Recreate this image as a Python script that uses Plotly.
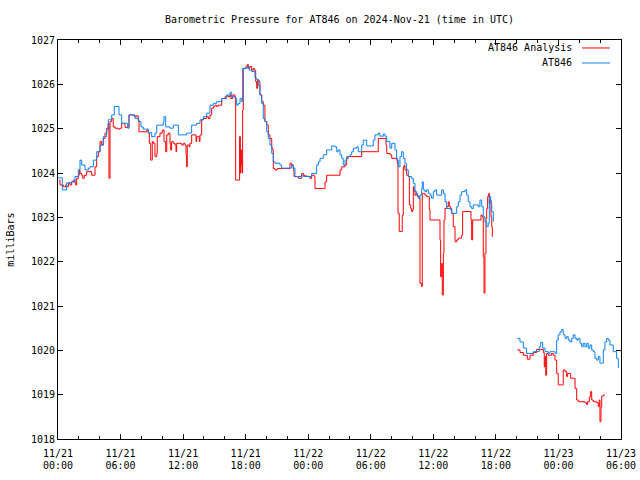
import pandas as pd
import plotly.graph_objects as go

START = "2024-11-21 00:00"

# AT846 observations (hours after start, millibars); None marks the data gap
obs_hours = [0.0, 0.41, 0.83, 1.31, 1.63, 1.95, 2.11, 2.27, 2.59, 2.91, 3.07, 3.39, 3.71, 4.03, 4.34, 4.67,
             4.82, 5.15, 5.40, 5.78, 5.85, 6.11, 6.49, 6.68, 6.81, 7.22, 7.39, 7.70, 7.96, 8.18, 8.66, 8.99,
             9.30, 9.47, 9.78, 10.10, 10.17, 10.33, 10.74, 11.06, 11.54, 11.86, 12.34, 12.66, 12.82, 13.30,
             13.62, 13.94, 14.26, 14.58, 14.90, 15.22, 15.70, 16.18, 16.50, 16.66, 16.98, 17.14, 17.29, 17.46,
             17.62, 17.71, 17.94, 18.16, 18.35, 18.58, 18.89, 19.06, 19.21, 19.37, 19.54, 19.69, 19.85, 20.02,
             20.17, 20.33, 20.50, 20.65, 20.81, 21.29, 21.45, 22.25, 22.41, 22.57, 22.73, 23.21, 23.37, 23.53,
             24.17, 24.33, 24.65, 24.81, 24.97, 25.13, 25.45, 25.77, 26.25, 26.57, 26.73, 26.88, 27.05, 27.21,
             27.36, 27.53, 27.69, 28.01, 28.17, 28.32, 28.65, 28.80, 29.13, 29.28, 29.61, 30.09, 30.24, 30.40,
             30.72, 30.88, 31.20, 31.36, 31.53, 31.84, 32.01, 32.32, 32.48, 32.64, 32.80, 32.96, 33.12, 33.28,
             33.44, 33.60, 33.92, 34.08, 34.24, 34.40, 34.56, 34.72, 34.88, 34.94, 35.04, 35.20, 35.36, 35.52,
             35.68, 35.84, 36.00, 36.16, 36.32, 36.64, 36.80, 36.96, 37.12, 37.28, 37.60, 37.76, 38.08, 38.24,
             38.39, 38.56, 38.72, 39.04, 39.20, 39.35, 39.52, 39.68, 39.83, 40.16, 40.31, 40.47, 40.64, 40.79,
             40.95, 41.12, 41.27, 41.37, 41.50, 41.60, 41.75, 42.9,
             44.05, 44.31, 44.63, 44.95, 45.27, 45.59, 45.91, 46.16, 46.30, 46.49, 46.71, 47.03, 47.19, 47.50,
             47.67, 47.83, 47.98, 48.15, 48.31, 48.46, 48.63, 48.79, 48.94, 49.11, 49.27, 49.42, 49.59, 49.75,
             49.90, 50.07, 50.23, 50.38, 50.54, 50.71, 50.86, 51.02, 51.19, 51.34, 51.50, 51.67, 51.82, 51.98,
             52.15, 52.30, 52.46, 52.62, 52.78, 52.94, 53.26, 53.58, 53.74]
obs_mb = [1023.89, 1023.62, 1023.78, 1023.80, 1023.92, 1024.07, 1024.29, 1024.18, 1024.07, 1024.11, 1024.14,
          1024.29, 1024.48, 1024.63, 1024.82, 1024.97, 1025.20, 1025.31, 1025.50, 1025.50, 1025.31, 1025.12,
          1025.12, 1025.01, 1025.31, 1025.31, 1025.23, 1025.16, 1025.04, 1024.99, 1024.91, 1024.82, 1024.90,
          1025.08, 1025.08, 1025.16, 1025.27, 1025.04, 1025.01, 1025.08, 1024.86, 1024.86, 1024.90, 1024.90,
          1025.08, 1025.12, 1025.20, 1025.27, 1025.35, 1025.53, 1025.57, 1025.61, 1025.68, 1025.76, 1025.82,
          1025.72, 1025.68, 1025.53, 1025.57, 1025.68, 1025.61, 1026.36, 1026.36, 1026.40, 1026.32, 1026.29,
          1026.14, 1026.10, 1025.98, 1025.76, 1025.57, 1025.23, 1025.16, 1024.93, 1024.78, 1024.63, 1024.44,
          1024.25, 1024.22, 1024.18, 1024.11, 1024.11, 1024.18, 1024.11, 1023.92, 1023.92, 1023.95, 1023.92,
          1023.92, 1023.99, 1023.99, 1024.18, 1024.25, 1024.33, 1024.41, 1024.52, 1024.61, 1024.59, 1024.48,
          1024.52, 1024.41, 1024.33, 1024.18, 1024.29, 1024.37, 1024.41, 1024.48, 1024.56, 1024.59, 1024.48,
          1024.63, 1024.74, 1024.61, 1024.61, 1024.74, 1024.86, 1024.90, 1024.83, 1024.88, 1024.83, 1024.71,
          1024.56, 1024.67, 1024.52, 1024.29, 1024.14, 1024.37, 1024.48, 1024.33, 1024.22, 1024.07, 1023.92,
          1023.88, 1023.77, 1023.58, 1023.50, 1023.43, 1023.50, 1023.65, 1023.80, 1023.62, 1023.58, 1023.62,
          1023.54, 1023.50, 1023.43, 1023.58, 1023.62, 1023.50, 1023.50, 1023.62, 1023.54, 1023.35, 1023.20,
          1023.20, 1023.09, 1023.09, 1023.24, 1023.35, 1023.50, 1023.58, 1023.62, 1023.50, 1023.35, 1023.24,
          1023.20, 1023.28, 1023.28, 1023.24, 1023.39, 1023.24, 1023.01, 1022.90, 1022.79, 1022.87, 1023.47,
          1023.32, 1023.13, 1022.90, None,
          1020.27, 1020.19, 1020.05, 1019.93, 1019.93, 1019.97, 1019.97, 1020.08, 1020.18, 1020.05, 1019.97,
          1019.93, 1019.97, 1019.97, 1019.93, 1020.23, 1020.35, 1020.42, 1020.47, 1020.35, 1020.27, 1020.31,
          1020.23, 1020.19, 1020.27, 1020.35, 1020.27, 1020.23, 1020.27, 1020.16, 1020.08, 1020.16, 1020.08,
          1020.16, 1020.05, 1020.12, 1020.01, 1019.97, 1019.82, 1019.78, 1019.86, 1019.71, 1019.71, 1020.01,
          1020.19, 1020.27, 1020.23, 1020.12, 1019.97, 1019.82, 1019.60]

# AT846 Analysis (hours after start, millibars); None marks the data gap
ana_hours = [0.10, 0.19, 0.51, 0.74, 0.83, 0.99, 1.15, 1.31, 1.47, 1.63, 1.70, 1.79, 1.95, 2.04, 2.11, 2.27,
             2.37, 2.52, 2.75, 3.07, 3.23, 3.48, 3.55, 3.71, 3.87, 4.03, 4.19, 4.34, 4.51, 4.67, 4.82, 4.89,
             4.99, 5.15, 5.30, 5.47, 5.78, 5.95, 6.11, 6.26, 6.43, 6.68, 6.81, 7.22, 7.32, 7.55, 7.70, 7.77,
             8.03, 8.34, 8.51, 8.66, 8.76, 8.89, 8.99, 9.04, 9.14, 9.30, 9.47, 9.52, 9.78, 10.00, 10.17, 10.26,
             10.33, 10.43, 10.58, 10.74, 10.81, 10.90, 11.06, 11.22, 11.32, 11.38, 11.70, 11.86, 12.02, 12.18,
             12.28, 12.34, 12.40, 12.59, 12.66, 12.82, 13.14, 13.24, 13.30, 13.46, 13.55, 13.62, 13.78, 13.94,
             14.26, 14.42, 14.58, 14.74, 14.90, 15.06, 15.22, 15.37, 15.70, 16.02, 16.18, 16.33, 16.50, 16.59,
             16.76, 16.98, 17.04, 17.39, 17.42, 17.49, 17.55, 17.62, 17.68, 17.71, 17.77, 18.03, 18.16, 18.25,
             18.41, 18.58, 18.73, 18.83, 18.96, 19.06, 19.15, 19.28, 19.37, 19.54, 19.69, 19.85, 20.02, 20.17,
             20.33, 20.50, 20.59, 20.65, 20.81, 20.97, 21.03, 21.29, 22.25, 22.41, 22.57, 22.64, 23.05, 23.21,
             23.37, 23.53, 23.69, 24.01, 24.17, 24.33, 24.58, 24.65, 25.45, 25.61, 25.77, 26.88, 27.05, 27.21,
             27.53, 27.69, 27.84, 28.97, 29.13, 30.57, 30.72, 31.36, 31.46, 31.53, 31.84, 32.01, 32.48, 32.54,
             32.61, 32.73, 32.96, 33.02, 33.12, 33.21, 33.28, 33.44, 33.60, 33.70, 33.83, 33.92, 34.02, 34.08,
             34.14, 34.24, 34.34, 34.46, 34.65, 34.72, 34.88, 34.94, 35.20, 35.36, 35.52, 35.61, 35.68, 36.48,
             36.64, 36.70, 36.80, 36.86, 36.96, 37.02, 37.12, 37.28, 37.43, 37.53, 37.66, 37.76, 37.91, 38.08,
             38.24, 38.39, 38.72, 38.81, 39.52, 39.61, 39.68, 39.77, 40.57, 40.70, 40.79, 40.86, 40.95, 41.05,
             41.12, 41.21, 41.31, 41.37, 41.44, 41.53, 41.60, 41.66, 42.9,
             44.05, 44.31, 44.63, 45.01, 45.27, 45.59, 45.91, 46.39, 46.55, 46.64, 46.71, 46.78, 46.87, 47.03,
             47.35, 47.50, 47.67, 47.83, 47.98, 48.31, 48.46, 48.63, 48.79, 48.88, 49.11, 49.17, 49.49, 49.59,
             49.75, 49.90, 50.54, 50.71, 50.77, 50.96, 51.09, 51.19, 51.34, 51.67, 51.82, 51.91, 51.98, 52.08,
             52.15, 52.30, 52.46]
ana_mb = [1023.84, 1023.73, 1023.69, 1023.73, 1023.69, 1023.77, 1023.73, 1023.80, 1023.84, 1023.77, 1023.73,
          1023.88, 1023.95, 1024.07, 1023.99, 1023.95, 1023.88, 1023.95, 1024.03, 1024.03, 1023.95, 1023.95,
          1024.14, 1024.37, 1024.48, 1024.71, 1024.63, 1024.78, 1024.90, 1025.01, 1025.12, 1023.88, 1025.16,
          1025.23, 1025.04, 1025.01, 1024.99, 1025.01, 1025.12, 1025.12, 1025.03, 1025.04, 1025.31, 1025.31,
          1025.27, 1025.29, 1025.20, 1024.93, 1024.93, 1024.93, 1024.97, 1024.90, 1024.67, 1024.29, 1024.29,
          1024.71, 1024.67, 1024.37, 1024.44, 1024.82, 1024.90, 1024.97, 1024.71, 1024.71, 1024.48, 1024.86,
          1024.90, 1024.67, 1024.52, 1024.71, 1024.67, 1024.63, 1024.48, 1024.67, 1024.67, 1024.63, 1024.67,
          1024.63, 1024.41, 1024.14, 1024.63, 1024.59, 1024.67, 1024.86, 1024.86, 1024.71, 1024.82, 1024.82,
          1024.71, 1024.86, 1025.20, 1025.23, 1025.27, 1025.23, 1025.31, 1025.46, 1025.50, 1025.53, 1025.50,
          1025.53, 1025.68, 1025.72, 1025.74, 1025.72, 1025.76, 1025.68, 1025.76, 1025.72, 1023.84, 1023.84,
          1024.82, 1024.00, 1024.52, 1024.18, 1024.00, 1025.42, 1026.36, 1026.40, 1026.45, 1026.36, 1026.40,
          1026.32, 1026.36, 1026.32, 1026.06, 1025.91, 1026.10, 1026.06, 1025.76, 1025.61, 1025.53, 1025.16,
          1025.08, 1024.86, 1024.78, 1024.56, 1024.52, 1024.10, 1024.07, 1024.07, 1024.10, 1024.10, 1024.22,
          1024.18, 1024.07, 1023.92, 1023.88, 1023.88, 1023.99, 1023.95, 1023.93, 1023.92, 1023.88, 1023.95,
          1023.92, 1023.65, 1023.65, 1023.80, 1023.95, 1023.95, 1024.07, 1024.14, 1024.18, 1024.33, 1024.37,
          1024.37, 1024.48, 1024.48, 1024.78, 1024.78, 1024.63, 1024.44, 1024.41, 1024.33, 1024.33, 1024.22,
          1023.09, 1022.68, 1022.68, 1023.05, 1024.14, 1024.18, 1024.07, 1023.95, 1023.92, 1023.28, 1023.20,
          1023.13, 1023.17, 1023.69, 1023.62, 1023.50, 1023.54, 1023.47, 1023.43, 1021.51, 1021.44, 1023.54,
          1023.50, 1023.47, 1023.47, 1023.17, 1022.94, 1022.94, 1022.49, 1021.66, 1021.96, 1021.25, 1022.19,
          1022.94, 1023.20, 1023.24, 1023.35, 1023.24, 1023.17, 1023.09, 1022.79, 1022.45, 1022.49, 1022.53,
          1022.60, 1023.13, 1023.13, 1022.94, 1022.49, 1022.94, 1023.05, 1023.01, 1022.11, 1021.29, 1022.19,
          1022.98, 1023.20, 1023.47, 1023.54, 1023.32, 1023.39, 1023.01, 1022.79, 1022.56, None,
          1020.01, 1019.95, 1019.89, 1019.80, 1019.89, 1019.95, 1020.02, 1020.02, 1019.95, 1019.63, 1019.86,
          1019.44, 1019.93, 1019.89, 1019.93, 1019.89, 1019.78, 1019.48, 1019.22, 1019.22, 1019.56, 1019.52,
          1019.41, 1019.48, 1019.48, 1019.37, 1019.37, 1019.14, 1018.88, 1018.84, 1018.82, 1018.77, 1018.84,
          1018.95, 1019.07, 1018.88, 1018.84, 1018.82, 1018.73, 1018.88, 1018.39, 1018.73, 1018.97, 1018.99,
          1018.99]

series_names = ["AT846 Analysis", "AT846"]
series_colors = ["#ff0000", "#0a80f5"]
title_text = "Barometric Pressure for AT846 on 2024-Nov-21 (time in UTC)"
y_label = "milliBars"
x_range_hours = [0, 54]
y_range = [1018, 1027]

t0 = pd.Timestamp(START)
to_time = lambda hs: [t0 + pd.Timedelta(hours=h) for h in hs]
x_range = to_time(x_range_hours)

FONT = "DejaVu Sans Mono"
FS = 10
tickfont = dict(family=FONT, size=FS, color="black")

fig = go.Figure()
fig.add_trace(go.Scatter(x=to_time(ana_hours), y=ana_mb, mode="lines", name=series_names[0],
                         line=dict(color=series_colors[0], width=1, shape="hv"), connectgaps=False,
                         hoverinfo="skip"))
fig.add_trace(go.Scatter(x=to_time(obs_hours), y=obs_mb, mode="lines", name=series_names[1],
                         line=dict(color=series_colors[1], width=1, shape="hv"), connectgaps=False,
                         hoverinfo="skip"))
# carrier for the second (time-of-day) row of x tick labels
fig.add_trace(go.Scatter(x=x_range, y=[None, None], xaxis="x2", mode="lines", showlegend=False,
                         hoverinfo="skip"))

six_h = 6 * 3600 * 1000
fig.update_layout(
    xaxis=dict(type="date", range=x_range, tick0=START, dtick=six_h, tickformat="%m/%d",
               showline=True, linecolor="black", linewidth=1, mirror="ticks", ticks="inside",
               ticklen=5, tickcolor="black", showgrid=False, zeroline=False, tickfont=tickfont,
               ticklabelstandoff=5, automargin=False,
               minor=dict(dtick=2 * 3600 * 1000, ticks="inside", ticklen=3, tickcolor="black")),
    xaxis2=dict(type="date", range=x_range, tick0=START, dtick=six_h, tickformat="%H:%M",
                overlaying="x", side="bottom", showline=False, ticks="", showgrid=False,
                zeroline=False, tickfont=tickfont, ticklabelstandoff=19, automargin=False),
    yaxis=dict(range=y_range, dtick=1, showline=True, linecolor="black", linewidth=1,
               mirror="ticks", ticks="inside", ticklen=5, tickcolor="black", showgrid=False,
               zeroline=False, tickfont=tickfont, automargin=False),
)

# gnuplot-style key: text right-aligned, line sample to the right
key_y = [0.98, 0.9424]
for name, color, ky in zip(series_names, series_colors, key_y):
    fig.add_annotation(xref="paper", yref="paper", x=0.9165, y=ky, text=name, showarrow=False,
                       xanchor="right", yanchor="middle", font=dict(family=FONT, size=FS, color="black"))
    fig.add_shape(type="line", xref="paper", yref="paper", x0=0.9307, x1=0.9805, y0=ky, y1=ky,
                  line=dict(color=color, width=1))

fig.add_annotation(xref="paper", yref="paper", x=-0.085, y=0.5, text=y_label, textangle=-90,
                   showarrow=False, xanchor="center", yanchor="middle",
                   font=dict(family=FONT, size=FS, color="black"))

fig.update_layout(
    width=640, height=480, showlegend=False,
    margin=dict(l=58, r=19, t=40, b=41),
    paper_bgcolor="white", plot_bgcolor="white",
    title=dict(text=title_text, x=0.5, xref="paper", xanchor="center",
               y=1 - 19 / 480, yref="container", yanchor="middle",
               font=dict(family=FONT, size=FS, color="black")),
)

fig.write_html("out.html", config={"displayModeBar": False},
               post_script="document.body.style.margin='0';")
